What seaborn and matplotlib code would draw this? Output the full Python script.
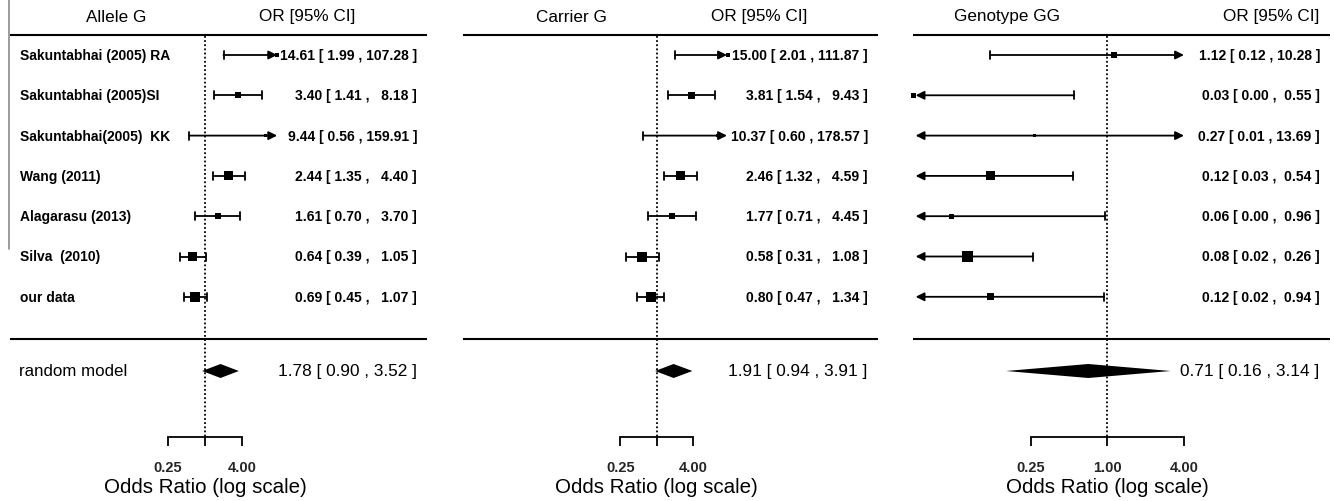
import numpy as np
import pandas as pd
import matplotlib
matplotlib.use("Agg")
import matplotlib.pyplot as plt
from matplotlib.transforms import blended_transform_factory
import seaborn as sns

# ---------------- data ----------------
studies = ["Sakuntabhai (2005) RA", "Sakuntabhai (2005)SI", "Sakuntabhai(2005)  KK",
           "Wang (2011)", "Alagarasu (2013)", "Silva  (2010)", "our data"]
panel_titles = ["Allele G", "Carrier G", "Genotype GG"]
summary_label = "random model"

allele_or = [14.61, 3.40, 9.44, 2.44, 1.61, 0.64, 0.69]
allele_lb = [1.99, 1.41, 0.56, 1.35, 0.70, 0.39, 0.45]
allele_ub = [107.28, 8.18, 159.91, 4.40, 3.70, 1.05, 1.07]
allele_weight = [4, 6, 2.5, 9, 6, 9, 10]
allele_summary = [1.78, 0.90, 3.52]

carrier_or = [15.00, 3.81, 10.37, 2.46, 1.77, 0.58, 0.80]
carrier_lb = [2.01, 1.54, 0.60, 1.32, 0.71, 0.31, 0.47]
carrier_ub = [111.87, 9.43, 178.57, 4.59, 4.45, 1.08, 1.34]
carrier_weight = [4, 7, 3, 9, 6, 10, 10]
carrier_summary = [1.91, 0.94, 3.91]

gg_or = [1.12, 0.03, 0.27, 0.12, 0.06, 0.08, 0.12]
gg_lb = [0.12, 0.00, 0.01, 0.03, 0.00, 0.02, 0.02]
gg_ub = [10.28, 0.55, 13.69, 0.54, 0.96, 0.26, 0.94]
gg_weight = [6, 5, 3, 9, 5, 11, 7]
gg_summary = [0.71, 0.16, 3.14]

tick_values = [0.25, 1.0, 4.0]
tick_labels_two = ["0.25", "", "4.00"]
tick_labels_three = ["0.25", "1.00", "4.00"]
xlabel = "Odds Ratio (log scale)"
ci_header = "OR [95% CI]"

# ---------------- style ----------------
sns.set_theme(style="white")
plt.rcParams["font.family"] = ["Liberation Sans", "DejaVu Sans"]

W, H = 1334, 502
fig = plt.figure(figsize=(W / 100, H / 100), dpi=100)

# layout in pixels
row_y = [56 + i * 40.3 for i in range(len(studies))]
y_header, y_top, y_bottom, y_sum, y_axis = 17, 36, 340, 372, 438

panels = [
    dict(left=0, width=450, c=205.0, s=26.9, span=(10, 427), ann_r=417, sum_r=417,
         h1=116, h2=(307, "center"), lo=1 / 16, hi=14.6, show_labels=True,
         est=allele_or, lb=allele_lb, ub=allele_ub, w=allele_weight,
         summ=allele_summary, ticklabels=tick_labels_two),
    dict(left=450, width=450, c=656.7, s=26.2, span=(463, 878), ann_r=868, sum_r=867,
         h1=571, h2=(759, "center"), lo=1 / 16, hi=14.6, show_labels=False,
         est=carrier_or, lb=carrier_lb, ub=carrier_ub, w=carrier_weight,
         summ=carrier_summary, ticklabels=tick_labels_two),
    dict(left=900, width=434, c=1107.3, s=55.3, span=(913, 1330), ann_r=1320, sum_r=1319,
         h1=1007.5, h2=(1319, "right"), lo=1 / 32, hi=4.0, show_labels=False,
         est=gg_or, lb=gg_lb, ub=gg_ub, w=gg_weight,
         summ=gg_summary, ticklabels=tick_labels_three),
]

LW = 1.3
for k, p in enumerate(panels):
    ax = fig.add_axes([p["left"] / W, 0, p["width"] / W, 1])
    ax.set_xscale("log")
    px2or = lambda px, p=p: np.exp((px - p["c"]) / p["s"])
    ax.set_xlim(px2or(p["left"]), px2or(p["left"] + p["width"]))
    ax.set_ylim(H, 0)
    ax.set_facecolor("none")
    ax.grid(False)
    for sp in ["top", "left", "right"]:
        ax.spines[sp].set_visible(False)
    tx = blended_transform_factory(ax.transAxes, ax.transData)
    fx = lambda px, p=p: (px - p["left"]) / p["width"]

    # headers & separator lines
    ax.text(fx(p["h1"]), y_header, panel_titles[k], transform=tx, ha="center",
            va="center", fontsize=12.3, color="black")
    ax.text(fx(p["h2"][0]), y_header, ci_header, transform=tx, ha=p["h2"][1],
            va="center", fontsize=12.3, color="black")
    for yy in (y_top, y_bottom):
        ax.plot([px2or(p["span"][0]), px2or(p["span"][1])], [yy, yy],
                color="black", lw=1.5, solid_capstyle="butt")

    # reference line
    ax.plot([1, 1], [y_top + 1, y_axis], color="black", lw=1.3,
            linestyle=(0, (1, 1.3)))

    est = np.array(p["est"]); lb = np.array(p["lb"]); ub = np.array(p["ub"])
    lo, hi = p["lo"], p["hi"]
    ub_w = max(len(f"{v:.2f}") for v in ub)
    lb_w = max(len(f"{v:.2f}") for v in lb)
    for i in range(len(studies)):
        y = row_y[i]
        left_cl = lb[i] < lo
        right_cl = ub[i] > hi
        x0 = lo if left_cl else lb[i]
        x1 = hi if right_cl else ub[i]
        if left_cl and right_cl:
            style = "<|-|>"
        elif right_cl:
            style = "-|>"
        elif left_cl:
            style = "<|-"
        else:
            style = None
        if style is None:
            ax.plot([x0, x1], [y, y], color="black", lw=LW, solid_capstyle="butt")
        else:
            ax.annotate("", xy=(x1, y), xytext=(x0, y),
                        arrowprops=dict(arrowstyle=style + ",head_length=0.5,head_width=0.25",
                                        color="black", lw=LW, shrinkA=0, shrinkB=0,
                                        mutation_scale=10))
        if not right_cl:
            ax.plot([x1, x1], [y - 4, y + 4], color="black", lw=LW)
        if not left_cl:
            ax.plot([x0, x0], [y - 4, y + 4], color="black", lw=LW)
        txt = f"{est[i]:.2f} [ {lb[i]:>{lb_w}.2f} , {ub[i]:>{ub_w}.2f} ]"
        ax.text(fx(p["ann_r"]), y, txt, transform=tx, ha="right", va="center",
                fontsize=10, fontweight="bold", color="black")
        if p["show_labels"]:
            ax.text(fx(20), y, studies[i], transform=tx, ha="left", va="center",
                    fontsize=10, fontweight="bold", color="black")

    # study squares via seaborn
    df = pd.DataFrame({"or": est, "y": row_y,
                       "area": [(wt * 0.72) ** 2 for wt in p["w"]]})
    amax = df["area"].max()
    sns.scatterplot(data=df, x="or", y="y", size="area", sizes=(0, amax),
                    size_norm=(0, amax), marker="s", color="black",
                    edgecolor="black", linewidth=0, legend=False, ax=ax)

    # summary diamond
    se, sl, su = p["summ"]
    hh = 7
    ax.fill([sl, se, su, se], [y_sum, y_sum - hh, y_sum, y_sum + hh],
            color="black", lw=0)
    ax.text(fx(p["sum_r"]), y_sum, f"{se:.2f} [ {sl:.2f} , {su:.2f} ]",
            transform=tx, ha="right", va="center", fontsize=12.4, color="black")
    if p["show_labels"]:
        ax.text(fx(19), y_sum, summary_label, transform=tx, ha="left",
                va="center", fontsize=12.2, color="black")

    # x axis (bracket)
    ax.spines["bottom"].set_position(("data", y_axis))
    ax.spines["bottom"].set_bounds(tick_values[0], tick_values[-1])
    ax.spines["bottom"].set_color("black")
    ax.spines["bottom"].set_linewidth(1.3)
    ax.set_xticks(tick_values)
    ax.set_xticks([], minor=True)
    ax.set_xticklabels(p["ticklabels"], fontsize=10.5, fontweight="bold")
    ax.tick_params(axis="x", which="major", direction="out", length=6.5,
                   width=1.3, color="black", pad=10, bottom=True)
    ax.set_yticks([])
    ax.set_xlabel("")
    ax.set_ylabel("")
    ax.text(fx(p["c"]), 488, xlabel, transform=tx, ha="center", va="center",
            fontsize=14.8, color="black")

# gray border artifact at far left
fig.add_artist(plt.Line2D([9 / W, 9 / W], [1, 1 - 250 / H], color="#8a8a8a", lw=1.2))

fig.savefig("out.png", dpi=100)
